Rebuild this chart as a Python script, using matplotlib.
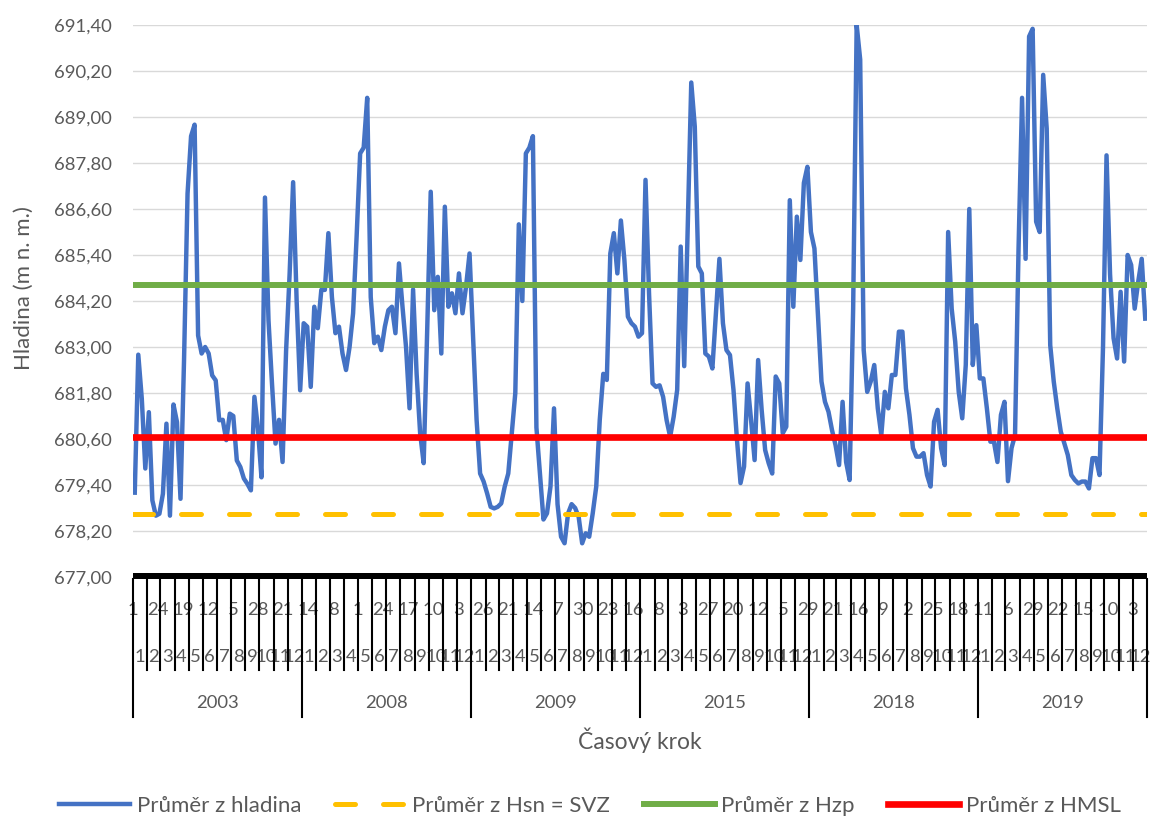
import calendar
import numpy as np
import matplotlib
matplotlib.use("Agg")
import matplotlib.pyplot as plt
from matplotlib.patches import Rectangle

plt.rcParams['font.family'] = ['Lato', 'DejaVu Sans']

# ---------------- data ----------------
years = [2003, 2008, 2009, 2015, 2018, 2019]

hladina_2003 = [679.2, 682.8, 681.65, 679.83, 681.3, 679.0, 678.6, 678.65, 679.17, 681.0,
                678.6, 681.5, 681.04, 679.04, 682.65, 687.0, 688.5, 688.8, 683.3, 682.83,
                683.0, 682.83, 682.26, 682.13, 681.09, 681.1, 680.57, 681.26, 681.2, 680.04,
                679.87, 679.57, 679.43, 679.26, 681.7, 680.87, 679.6, 686.9, 683.7, 682.04,
                680.48, 681.1, 680.0, 682.9, 684.9, 687.3, 684.2, 681.87]
hladina_2008 = [683.62, 683.53, 681.96, 684.05, 683.49, 684.49, 684.49, 685.97, 684.3, 683.36,
                683.53, 682.83, 682.4, 683.0, 683.88, 685.88, 688.05, 688.2, 689.5, 684.3,
                683.1, 683.27, 682.92, 683.53, 683.96, 684.05, 683.36, 685.18, 684.05, 683.0,
                681.4, 684.5, 682.3, 680.75, 679.97, 683.44, 687.05, 683.96, 684.83, 682.83,
                686.66, 684.05, 684.4, 683.88, 684.92, 683.88, 684.57, 685.44]
hladina_2009 = [683.27, 681.1, 679.7, 679.49, 679.18, 678.83, 678.79, 678.83, 678.92, 679.36,
                679.7, 680.75, 681.8, 686.2, 684.2, 688.05, 688.2, 688.5, 680.9, 679.7,
                678.5, 678.66, 679.36, 681.4, 678.9, 678.05, 677.88, 678.66, 678.9, 678.8,
                678.57, 677.88, 678.14, 678.05, 678.66, 679.36, 681.1, 682.3, 682.14, 685.44,
                685.97, 684.92, 686.3, 685.27, 683.79, 683.62, 683.53, 683.27]
hladina_2015 = [683.36, 687.36, 684.4, 682.05, 681.96, 682.0, 681.7, 681.09, 680.66, 681.18,
                681.88, 685.62, 682.5, 686.14, 689.9, 688.75, 685.1, 684.92, 682.83, 682.75,
                682.44, 683.88, 685.3, 683.62, 682.92, 682.79, 681.88, 680.57, 679.45, 679.88,
                682.05, 681.09, 680.05, 682.66, 681.36, 680.31, 679.97, 679.7, 682.23, 682.05,
                680.75, 680.92, 686.83, 684.05, 686.4, 685.27, 687.28, 687.7]
hladina_2018 = [686.0, 685.57, 683.83, 682.1, 681.57, 681.31, 680.83, 680.44, 679.92, 681.57,
                680.0, 679.53, 684.0, 691.4, 690.5, 682.92, 681.83, 682.1, 682.53, 681.4,
                680.7, 681.83, 681.4, 682.27, 682.27, 683.4, 683.4, 681.92, 681.23, 680.36,
                680.14, 680.14, 680.23, 679.66, 679.36, 681.05, 681.36, 680.36, 679.92, 686.0,
                684.0, 683.14, 681.83, 681.14, 682.53, 686.6, 682.53, 683.57]
hladina_2019 = [682.18, 682.18, 681.4, 680.53, 680.53, 680.0, 681.23, 681.57, 679.5, 680.36,
                680.7, 685.57, 689.5, 685.3, 691.1, 691.3, 686.27, 686.0, 690.1, 688.7,
                683.05, 682.1, 681.4, 680.79, 680.49, 680.18, 679.66, 679.53, 679.44, 679.49,
                679.49, 679.31, 680.1, 680.1, 679.66, 683.0, 688.0, 684.9, 683.23, 682.7,
                684.44, 682.62, 685.4, 685.14, 684.0, 684.7, 685.3, 683.74]

mean_hsn = 678.64    # Průměr z Hsn = SVZ
mean_hzp = 684.62    # Průměr z Hzp
mean_hmsl = 680.65   # Průměr z HMSL

y_ticks = [677.0, 678.2, 679.4, 680.6, 681.8, 683.0, 684.2, 685.4, 686.6, 687.8, 689.0, 690.2, 691.4]
y_tick_labels = ["677,00", "678,20", "679,40", "680,60", "681,80", "683,00", "684,20",
                 "685,40", "686,60", "687,80", "689,00", "690,20", "691,40"]
day_labels = [1, 24, 19, 12, 5, 28, 21, 14, 8, 1, 24, 17, 10, 3, 26, 21, 14, 7, 30, 23, 16,
              8, 3, 27, 20, 12, 5, 29, 21, 16, 9, 2, 25, 18, 11, 6, 29, 22, 15, 10, 3]
month_labels = [1, 2, 3, 4, 5, 6, 7, 8, 9, 10, 11, 12]
day_label_step = 54

series = [hladina_2003, hladina_2008, hladina_2009, hladina_2015, hladina_2018, hladina_2019]

# ---------------- geometry (days) ----------------
ydays = [366 if calendar.isleap(y) else 365 for y in years]
ystarts = np.concatenate([[0], np.cumsum(ydays)])
total = ystarts[-1]

xs, vs = [], []
for k, vals in enumerate(series):
    n = len(vals)
    for i, v in enumerate(vals):
        xs.append(ystarts[k] + (i + 0.5) * ydays[k] / n)
        vs.append(v)

W, H = 1150, 821
fig = plt.figure(figsize=(W / 100, H / 100), dpi=100)
L, R, T, B = 133, 1147, 25, 577
ax = fig.add_axes([L / W, (H - B) / H, (R - L) / W, (B - T) / H])
ax.set_xlim(0, total)
ax.set_ylim(677.0, 691.4)

txt = '#595959'
tick_fs = 13.3
ax.set_yticks(y_ticks)
ax.set_yticklabels(y_tick_labels)
ax.tick_params(axis='y', length=0, pad=15, labelsize=tick_fs, labelcolor=txt)
ax.set_xticks([])
for s in ax.spines.values():
    s.set_visible(False)
ax.yaxis.grid(True, color='#d9d9d9', lw=1.0)
ax.set_axisbelow(True)

l1, = ax.plot(xs, vs, color='#4472C4', lw=3.2, solid_joinstyle='round', zorder=3)
l2, = ax.plot([0, total], [mean_hsn, mean_hsn], color='#FFC000', lw=3.6,
              dashes=(4.0, 5.6), dash_capstyle='round', zorder=4)
l3, = ax.plot([0, total], [mean_hzp, mean_hzp], color='#70AD47', lw=4.3, zorder=4)
l4, = ax.plot([0, total], [mean_hmsl, mean_hmsl], color='#FF0000', lw=4.8, zorder=4)

# ---------------- multi-level category axis ----------------
tr = ax.get_xaxis_transform()
ph = B - T
def ay(ypx):
    return (B - ypx) / ph

ax.add_patch(Rectangle((0, ay(579)), total, ay(572.5) - ay(579), transform=tr,
                       color='black', clip_on=False, zorder=6, lw=0))
for k in range(len(years)):
    mstart = ystarts[k]
    for m in range(12):
        ml = calendar.monthrange(years[k], m + 1)[1]
        if m > 0:
            ax.plot([mstart, mstart], [ay(579), ay(670)], transform=tr, color='black',
                    lw=1.5, clip_on=False, zorder=6)
        ax.text(mstart + ml / 2, ay(657), str(month_labels[m]), transform=tr,
                ha='center', va='center', fontsize=tick_fs, color=txt)
        mstart += ml
    ax.text((ystarts[k] + ystarts[k + 1]) / 2, ay(703), str(years[k]), transform=tr,
            ha='center', va='center', fontsize=tick_fs, color=txt)
for b in ystarts:
    ax.plot([b, b], [ay(579), ay(717)], transform=tr, color='black', lw=1.5,
            clip_on=False, zorder=6)
for j, d in enumerate(day_labels):
    ax.text(j * day_label_step + 0.5, ay(610), str(d), transform=tr,
            ha='center', va='center', fontsize=tick_fs, color=txt)

ax.text(total / 2, ay(740), 'Časový krok', transform=tr, ha='center', va='center',
        fontsize=16.5, color=txt)
fig.text(24 / W, 1 - 288 / H, 'Hladina (m n. m.)', rotation=90, ha='center', va='center',
         fontsize=16, color=txt)

fig.legend([l1, l2, l3, l4],
           ['Průměr z hladina', 'Průměr z Hsn = SVZ', 'Průměr z Hzp', 'Průměr z HMSL'],
           loc='center', bbox_to_anchor=(590 / W, 1 - 806 / H), ncol=4, frameon=False,
           fontsize=16, labelcolor=txt, handlelength=3.2, handletextpad=0.3,
           columnspacing=1.5)

fig.savefig('out.png', dpi=100)
